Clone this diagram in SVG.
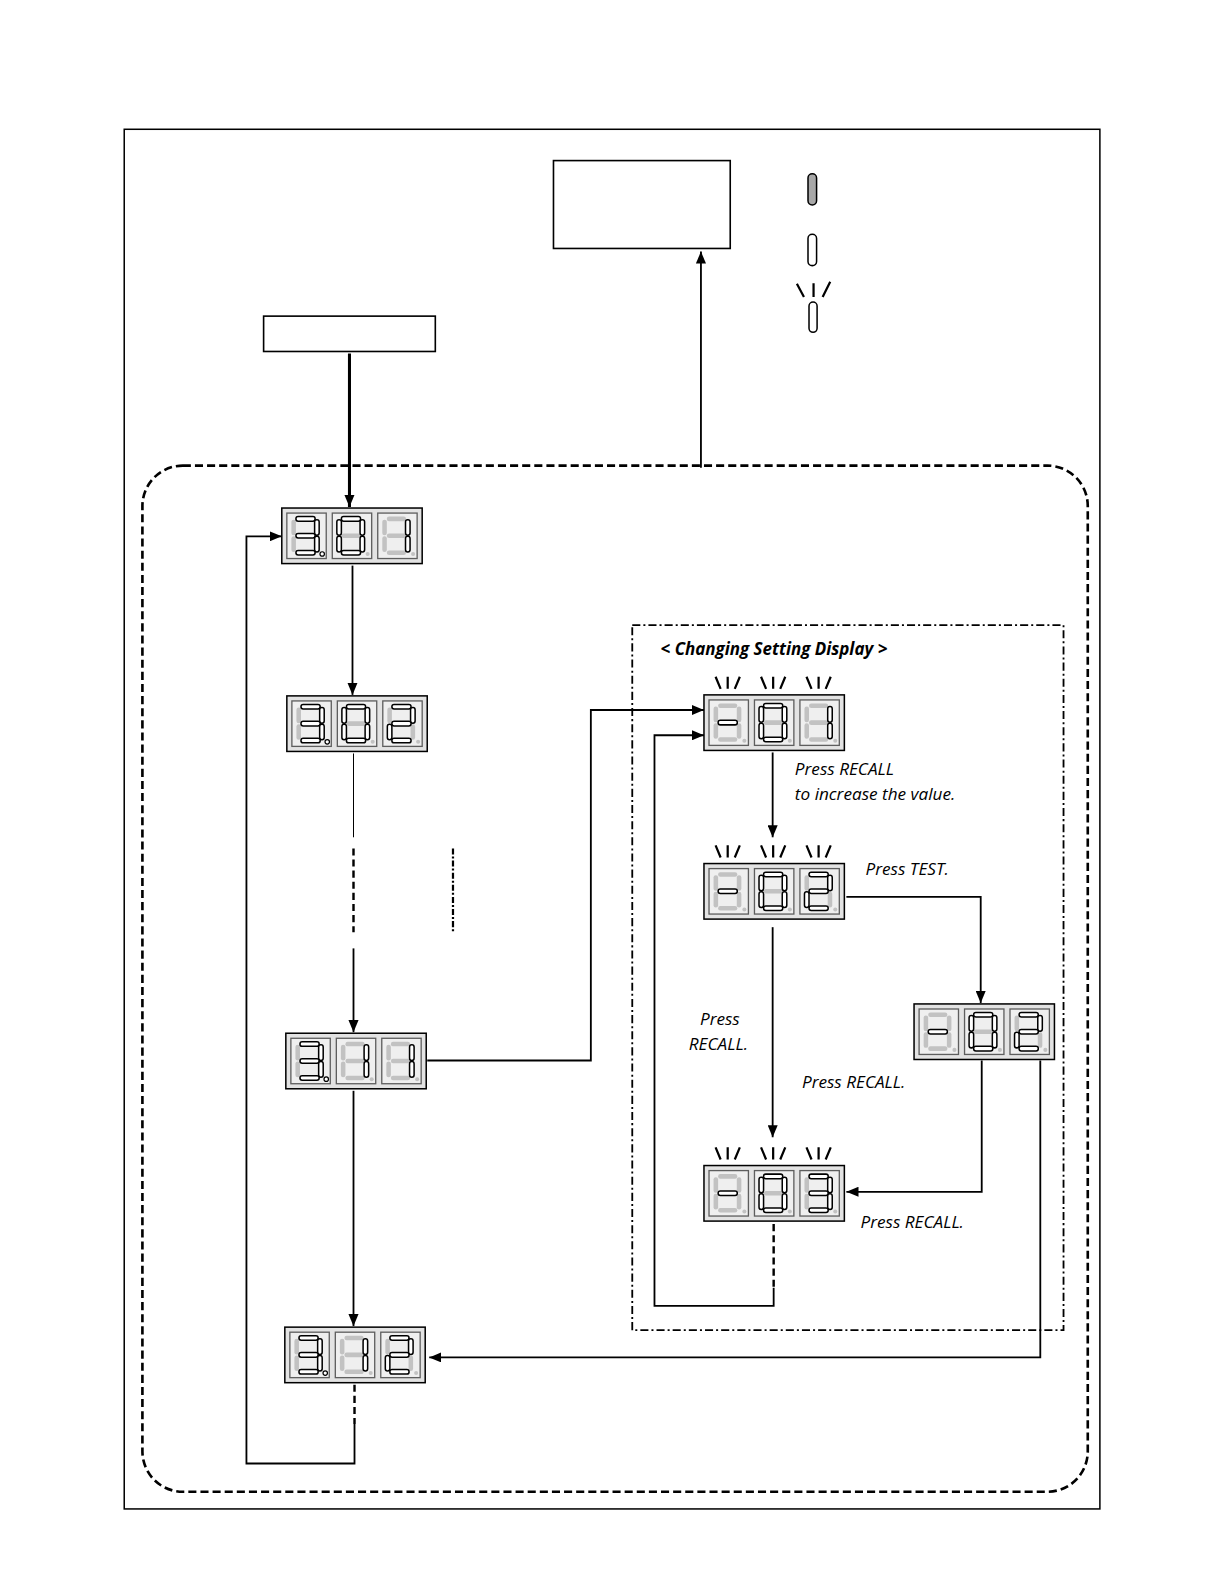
<svg xmlns="http://www.w3.org/2000/svg" xmlns:xlink="http://www.w3.org/1999/xlink" width="1224" height="1584" viewBox="0 0 1224 1584">
<style>
.frame{fill:none;stroke:#000;stroke-width:1.5}
.box{fill:#fff;stroke:#000;stroke-width:1.6}
.grp{fill:none;stroke:#000;stroke-width:2.6;stroke-dasharray:8 4}
.sub{fill:none;stroke:#000;stroke-width:1.8;stroke-dasharray:8 3 2 3}
.disp{fill:#e3e3e3;stroke:#000;stroke-width:1.5}
.cell{fill:#efefef;stroke:#5e5e5e;stroke-width:1.3}
.on{fill:#fff;stroke:#000;stroke-width:1.5}
.off{fill:#c2c2c2}
.dpon{fill:#fff;stroke:#000;stroke-width:1.2}
.ray{stroke:#000;stroke-width:2.2;fill:none}
.ln{fill:none;stroke:#000;stroke-width:1.8}
.thin{fill:none;stroke:#000;stroke-width:1}
.thick{fill:none;stroke:#000;stroke-width:3}
.dash{fill:none;stroke:#000;stroke-width:2.4;stroke-dasharray:7 4}
.dashdot{fill:none;stroke:#000;stroke-width:2.2;stroke-dasharray:6 2 2 2}
.t{font-family:"Open Sans","Liberation Sans",sans-serif;font-style:italic;font-size:17px;fill:#000}
.tb{font-family:"Open Sans","Liberation Sans",sans-serif;font-style:italic;font-weight:bold;font-size:16.8px;fill:#000}
</style>
<defs>
<marker id="ah" viewBox="0 0 12 10" refX="12" refY="5" markerWidth="12" markerHeight="10" markerUnits="userSpaceOnUse" orient="auto">
<path d="M0,0 L12,5 L0,10 z" fill="#000"/>
</marker>
<g id="c3p">
<rect class="cell" width="39" height="45"/>
<rect class="off" x="4.5" y="6.5" width="4.5" height="15.5" rx="2.2"/>
<rect class="off" x="4.5" y="23" width="4.5" height="15.5" rx="2.2"/>
<rect class="on" x="9" y="3.5" width="19" height="4.5" rx="2.2"/>
<rect class="on" x="27.5" y="6.5" width="4.5" height="15.5" rx="2.2"/>
<rect class="on" x="9" y="20.2" width="19" height="4.5" rx="2.2"/>
<rect class="on" x="27.5" y="23" width="4.5" height="15.5" rx="2.2"/>
<rect class="on" x="9" y="37" width="19" height="4.5" rx="2.2"/>
<circle class="dpon" cx="35" cy="40.5" r="2.2"/>
</g>
<g id="c3">
<rect class="cell" width="39" height="45"/>
<rect class="off" x="4.5" y="6.5" width="4.5" height="15.5" rx="2.2"/>
<rect class="off" x="4.5" y="23" width="4.5" height="15.5" rx="2.2"/>
<circle class="off" cx="35" cy="40.5" r="2"/>
<rect class="on" x="9" y="3.5" width="19" height="4.5" rx="2.2"/>
<rect class="on" x="27.5" y="6.5" width="4.5" height="15.5" rx="2.2"/>
<rect class="on" x="9" y="20.2" width="19" height="4.5" rx="2.2"/>
<rect class="on" x="27.5" y="23" width="4.5" height="15.5" rx="2.2"/>
<rect class="on" x="9" y="37" width="19" height="4.5" rx="2.2"/>
</g>
<g id="c0">
<rect class="cell" width="39" height="45"/>
<rect class="off" x="9" y="20.2" width="19" height="4.5" rx="2.2"/>
<circle class="off" cx="35" cy="40.5" r="2"/>
<rect class="on" x="9" y="3.5" width="19" height="4.5" rx="2.2"/>
<rect class="on" x="27.5" y="6.5" width="4.5" height="15.5" rx="2.2"/>
<rect class="on" x="27.5" y="23" width="4.5" height="15.5" rx="2.2"/>
<rect class="on" x="9" y="37" width="19" height="4.5" rx="2.2"/>
<rect class="on" x="4.5" y="23" width="4.5" height="15.5" rx="2.2"/>
<rect class="on" x="4.5" y="6.5" width="4.5" height="15.5" rx="2.2"/>
</g>
<g id="c1">
<rect class="cell" width="39" height="45"/>
<rect class="off" x="9" y="3.5" width="19" height="4.5" rx="2.2"/>
<rect class="off" x="9" y="20.2" width="19" height="4.5" rx="2.2"/>
<rect class="off" x="9" y="37" width="19" height="4.5" rx="2.2"/>
<rect class="off" x="4.5" y="23" width="4.5" height="15.5" rx="2.2"/>
<rect class="off" x="4.5" y="6.5" width="4.5" height="15.5" rx="2.2"/>
<circle class="off" cx="35" cy="40.5" r="2"/>
<rect class="on" x="27.5" y="6.5" width="4.5" height="15.5" rx="2.2"/>
<rect class="on" x="27.5" y="23" width="4.5" height="15.5" rx="2.2"/>
</g>
<g id="c2">
<rect class="cell" width="39" height="45"/>
<rect class="off" x="4.5" y="6.5" width="4.5" height="15.5" rx="2.2"/>
<rect class="off" x="27.5" y="23" width="4.5" height="15.5" rx="2.2"/>
<circle class="off" cx="35" cy="40.5" r="2"/>
<rect class="on" x="9" y="3.5" width="19" height="4.5" rx="2.2"/>
<rect class="on" x="27.5" y="6.5" width="4.5" height="15.5" rx="2.2"/>
<rect class="on" x="9" y="20.2" width="19" height="4.5" rx="2.2"/>
<rect class="on" x="4.5" y="23" width="4.5" height="15.5" rx="2.2"/>
<rect class="on" x="9" y="37" width="19" height="4.5" rx="2.2"/>
</g>
<g id="cm">
<rect class="cell" width="39" height="45"/>
<rect class="off" x="9" y="3.5" width="19" height="4.5" rx="2.2"/>
<rect class="off" x="27.5" y="6.5" width="4.5" height="15.5" rx="2.2"/>
<rect class="off" x="27.5" y="23" width="4.5" height="15.5" rx="2.2"/>
<rect class="off" x="9" y="37" width="19" height="4.5" rx="2.2"/>
<rect class="off" x="4.5" y="23" width="4.5" height="15.5" rx="2.2"/>
<rect class="off" x="4.5" y="6.5" width="4.5" height="15.5" rx="2.2"/>
<circle class="off" cx="35" cy="40.5" r="2"/>
<rect class="on" x="9" y="20.2" width="19" height="4.5" rx="2.2"/>
</g>
<g id="rays">
<path class="ray" d="M11.5,-18 L16.5,-6 M23.5,-18 L23.5,-6 M35.5,-18 L30.5,-6"/>
<path class="ray" d="M56.5,-18 L61.5,-6 M68.5,-18 L68.5,-6 M80.5,-18 L75.5,-6"/>
<path class="ray" d="M101.5,-18 L106.5,-6 M113.5,-18 L113.5,-6 M125.5,-18 L120.5,-6"/>
</g>
</defs>
<rect width="1224" height="1584" fill="#fff"/>
<g transform="scale(1.01)">
<g id="frames">
<rect class="frame" x="123" y="128" width="966" height="1366"/>
<rect class="grp" x="141" y="461" width="936" height="1016" rx="40" ry="40"/>
<rect class="sub" x="626" y="619" width="427" height="698"/>
</g>
<g id="n-topbox"><rect class="box" x="548" y="159" width="175" height="87"/></g>
<g id="n-startbox"><rect class="box" x="261" y="313" width="170" height="35"/></g>
<g id="legend">
<rect x="800" y="172" width="8.5" height="31" rx="4.2" fill="#a8a8a8" stroke="#000" stroke-width="1.5"/>
<rect x="800" y="232" width="8.5" height="31" rx="4.2" fill="#fff" stroke="#000" stroke-width="1.5"/>
<rect x="801" y="299" width="8" height="30" rx="4" fill="#fff" stroke="#000" stroke-width="1.5"/>
<path class="ray" d="M789,281 L796,294 M805.5,280.5 L805.5,294 M822,279 L814.5,294"/>
</g>
<g id="connectors">
<path class="thick" d="M346,350 L346,502" marker-end="url(#ah)"/>
<path class="ln" d="M694,463 L694,249" marker-end="url(#ah)"/>
<path class="ln" d="M349,560 L349,688" marker-end="url(#ah)"/>
<path class="thin" d="M350,746 L350,829"/>
<path class="dash" d="M350,840 L350,923"/>
<path class="ln" d="M350,939 L350,1022" marker-end="url(#ah)"/>
<path class="dashdot" d="M448.5,840 L448.5,924"/>
<path class="ln" d="M423,1050 L585,1050 L585,703 L697,703" marker-end="url(#ah)"/>
<path class="ln" d="M350,1080 L350,1313" marker-end="url(#ah)"/>
<path class="dash" d="M351,1371 L351,1410"/>
<path class="ln" d="M351,1410 L351,1449 L244,1449 L244,531 L279,531" marker-end="url(#ah)"/>
<path class="ln" d="M765,745 L765,829" marker-end="url(#ah)"/>
<path class="ln" d="M838,888 L971,888 L971,993" marker-end="url(#ah)"/>
<path class="ln" d="M765,918 L765,1126" marker-end="url(#ah)"/>
<path class="ln" d="M972,1050 L972,1180 L838,1180" marker-end="url(#ah)"/>
<path class="ln" d="M1030,1050 L1030,1344 L425,1344" marker-end="url(#ah)"/>
<path class="dash" d="M766,1212 L766,1275"/>
<path class="ln" d="M766,1275 L766,1293 L648,1293 L648,728 L697,728" marker-end="url(#ah)"/>
</g>
<g id="n-301" transform="translate(279,503)">
<rect class="disp" width="139" height="55"/>
<use href="#c3p" x="5" y="5"/><use href="#c0" x="50" y="5"/><use href="#c1" x="95" y="5"/>
</g>
<g id="n-302" transform="translate(284,689)">
<rect class="disp" width="139" height="55"/>
<use href="#c3p" x="5" y="5"/><use href="#c0" x="50" y="5"/><use href="#c2" x="95" y="5"/>
</g>
<g id="n-311" transform="translate(283,1023)">
<rect class="disp" width="139" height="55"/>
<use href="#c3p" x="5" y="5"/><use href="#c1" x="50" y="5"/><use href="#c1" x="95" y="5"/>
</g>
<g id="n-312" transform="translate(282,1314)">
<rect class="disp" width="139" height="55"/>
<use href="#c3p" x="5" y="5"/><use href="#c1" x="50" y="5"/><use href="#c2" x="95" y="5"/>
</g>
<g id="n-m01" transform="translate(697,688)">
<use href="#rays"/>
<rect class="disp" width="139" height="55"/>
<use href="#cm" x="5" y="5"/><use href="#c0" x="50" y="5"/><use href="#c1" x="95" y="5"/>
</g>
<g id="n-m02" transform="translate(697,855)">
<use href="#rays"/>
<rect class="disp" width="139" height="55"/>
<use href="#cm" x="5" y="5"/><use href="#c0" x="50" y="5"/><use href="#c2" x="95" y="5"/>
</g>
<g id="n-m02set" transform="translate(905,994)">
<rect class="disp" width="139" height="55"/>
<use href="#cm" x="5" y="5"/><use href="#c0" x="50" y="5"/><use href="#c2" x="95" y="5"/>
</g>
<g id="n-m03" transform="translate(697,1154)">
<use href="#rays"/>
<rect class="disp" width="139" height="55"/>
<use href="#cm" x="5" y="5"/><use href="#c0" x="50" y="5"/><use href="#c3" x="95" y="5"/>
</g>
<g id="labels">
<text class="tb" x="654" y="649">&lt; Changing Setting Display &gt;</text>
<text class="t" x="787" y="767">Press RECALL</text>
<text class="t" x="787" y="792">to increase the value.</text>
<text class="t" x="857" y="866">Press TEST.</text>
<text class="t" x="693" y="1015">Press</text>
<text class="t" x="682" y="1040">RECALL.</text>
<text class="t" x="794" y="1077">Press RECALL.</text>
<text class="t" x="852" y="1216">Press RECALL.</text>
</g>
</g>
</svg>
